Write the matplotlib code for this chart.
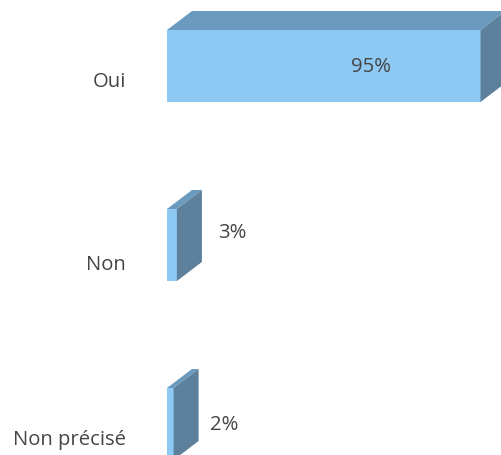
import matplotlib
matplotlib.use("Agg")
import matplotlib.pyplot as plt
from matplotlib.patches import Polygon

categories = ["Oui", "Non", "Non précisé"]
values = [95, 3, 2]
value_labels = ["95%", "3%", "2%"]

FRONT = "#8EC9F4"
TOP = "#6A9BBE"
SIDE = "#5D809C"
TEXT = "#454545"

fig = plt.figure(figsize=(5.01, 4.56), dpi=100)
ax = fig.add_axes([0, 0, 1, 1])
px_per_pct = 3.3
px_per_cat = 179.0
ax.set_xlim(-167 / px_per_pct, (501 - 167) / px_per_pct)
ax.set_ylim((456 - 67) / px_per_cat, -67 / px_per_cat)
ax.axis("off")

h = 72 / px_per_cat
dx = 25 / px_per_pct
dy = 19 / px_per_cat

for i, v in enumerate(values):
    top = i - h / 2
    bot = i + h / 2
    ax.add_patch(Polygon([(0, top), (v, top), (v, bot), (0, bot)], closed=True,
                         facecolor=FRONT, edgecolor="none"))
    ax.add_patch(Polygon([(0, top), (dx, top - dy), (v + dx, top - dy), (v, top)],
                         closed=True, facecolor=TOP, edgecolor="none"))
    ax.add_patch(Polygon([(v, top), (v + dx, top - dy), (v + dx, bot - dy), (v, bot)],
                         closed=True, facecolor=SIDE, edgecolor="none"))

fs = 14.6
font = ["Open Sans", "DejaVu Sans"]
label_dy = [0.085, 0.105, 0.085]
for i, c in enumerate(categories):
    ax.text(-41 / px_per_pct, i + label_dy[i], c, ha="right", va="center",
            fontsize=fs, color=TEXT, family=font)

# value label placements (x in %, y offset in category units)
label_pos = [(61.8, 0.0, "center"), (15.5, -0.075, "left"), (13.0, 0.0, "left")]
for i, (lbl, (lx, ly, ha)) in enumerate(zip(value_labels, label_pos)):
    ax.text(lx, i + ly, lbl, ha=ha, va="center", fontsize=fs, color=TEXT, family=font)

fig.savefig("out.png", dpi=100)
